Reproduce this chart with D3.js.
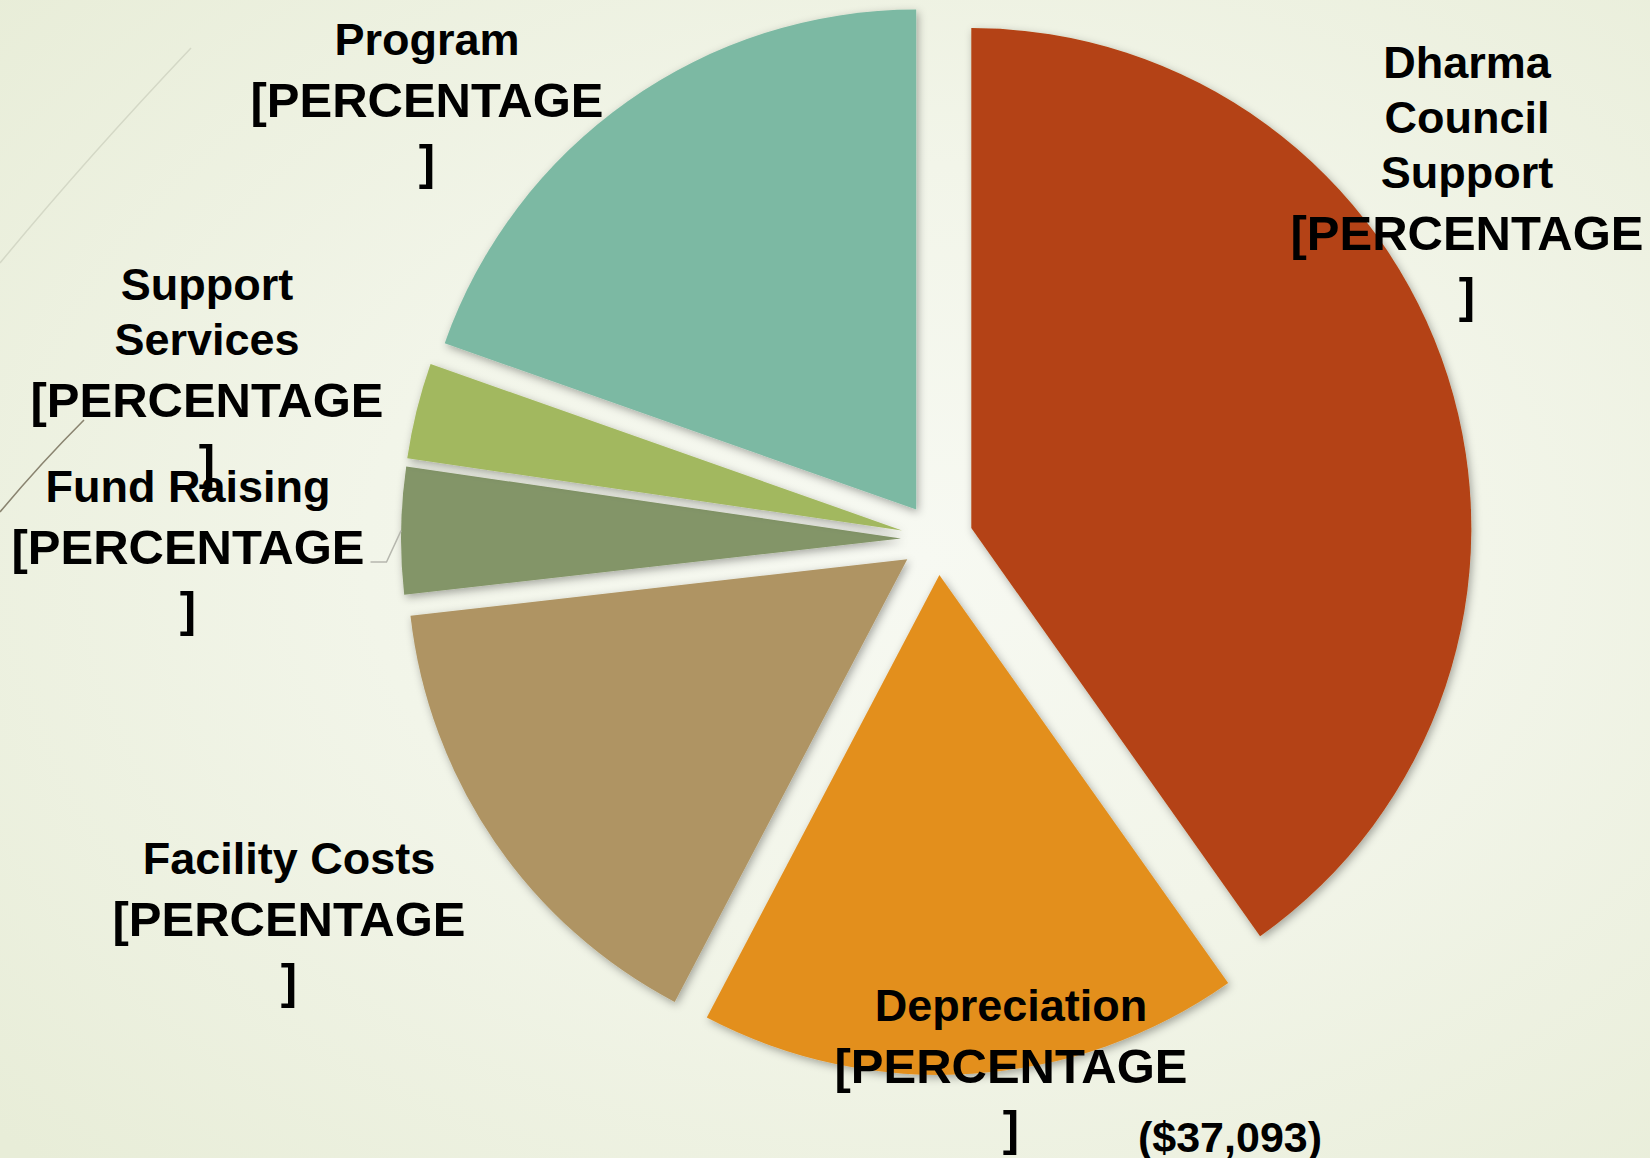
<!DOCTYPE html>
<html>
<head>
<meta charset="utf-8">
<script src="https://cdn.jsdelivr.net/npm/d3@7"></script>
<style>
  html, body { margin: 0; padding: 0; overflow: hidden; }
  body { width: 1650px; height: 1158px; }
  text { font-family: "Liberation Sans", Arial, sans-serif; font-weight: bold; fill: #000; }
</style>
</head>
<body>
<div id="chart"></div>
<script>
// Expense share per category (percent of total), read clockwise from 12 o'clock
var categories = ["Dharma Council Support", "Depreciation", "Facility Costs", "Fund Raising", "Support Services", "Program"];
var values = [40.2, 17.5, 15.5, 4.1, 3.1, 19.6];
var colors = ["#b44312", "#e38f1f", "#af9463", "#839567", "#a2b85e", "#7cb9a3"];
// how each category name wraps in its label
var nameLines = [["Dharma", "Council", "Support"], ["Depreciation"], ["Facility Costs"], ["Fund Raising"], ["Support", "Services"], ["Program"]];
var valueLabel = ["[PERCENTAGE", "]"];
var depreciationNote = "($37,093)";

var width = 1650, height = 1158;

// layout: pie centre, radius, explosion distance
var cx = 937, cy = 539, radius = 500, explode = 36;

// label anchors (centre x, first baseline y), same order as categories
var labelPos = [[1467, 78], [1011, 1021], [289, 874], [188, 502], [207, 300], [427, 55]];
var nameStep = 55, pctStep = 62;

var svg = d3.select("#chart").append("svg")
    .attr("width", width)
    .attr("height", height);

var defs = svg.append("defs");

var bg = defs.append("radialGradient")
    .attr("id", "bg")
    .attr("cx", "56%").attr("cy", "48%").attr("r", "75%");
bg.append("stop").attr("offset", "0%").attr("stop-color", "#f7f9f2");
bg.append("stop").attr("offset", "45%").attr("stop-color", "#f2f5e9");
bg.append("stop").attr("offset", "100%").attr("stop-color", "#e8edd8");

var shadow = defs.append("filter")
    .attr("id", "shadow")
    .attr("x", "-20%").attr("y", "-20%").attr("width", "140%").attr("height", "140%");
shadow.append("feDropShadow")
    .attr("dx", 2).attr("dy", 3)
    .attr("stdDeviation", 4)
    .attr("flood-color", "#000")
    .attr("flood-opacity", 0.33);

svg.append("rect")
    .attr("width", width)
    .attr("height", height)
    .attr("fill", "url(#bg)");

// slide decoration lines at the left edge
svg.append("path")
    .attr("d", "M191,48 Q85,160 0,263")
    .attr("fill", "none")
    .attr("stroke", "#d4d8c6")
    .attr("stroke-width", 1.5);
svg.append("path")
    .attr("d", "M84,420 Q40,464 0,512")
    .attr("fill", "none")
    .attr("stroke", "#8a8470")
    .attr("stroke-width", 1.6);

var pie = d3.pie().sort(null).value(function(d) { return d; });
var arcs = pie(values);

var arc = d3.arc().innerRadius(0).outerRadius(radius);

function offset(d) {
    var mid = (d.startAngle + d.endAngle) / 2;
    return [Math.sin(mid) * explode, -Math.cos(mid) * explode];
}

var g = svg.append("g")
    .attr("transform", "translate(" + cx + "," + cy + ")");

g.selectAll("path.slice")
    .data(arcs)
    .enter().append("path")
    .attr("class", "slice")
    .attr("d", arc)
    .attr("fill", function(d, i) { return colors[i]; })
    .attr("filter", "url(#shadow)")
    .attr("transform", function(d) {
        var o = offset(d);
        return "translate(" + o[0] + "," + o[1] + ")";
    });

// labels
var labels = svg.append("g").attr("class", "labels");

arcs.forEach(function(d, i) {
    var p = labelPos[i];
    var t = labels.append("text")
        .attr("text-anchor", "middle");
    var y = p[1];
    nameLines[i].forEach(function(line, k) {
        t.append("tspan")
            .attr("x", p[0])
            .attr("y", y)
            .attr("font-size", 45)
            .text(line);
        y += nameStep;
    });
    y += pctStep - nameStep;
    valueLabel.forEach(function(line, k) {
        var ts = t.append("tspan")
            .attr("x", p[0])
            .attr("y", y)
            .attr("font-size", 49)
            .text(line);
        if (k === 0) d.pctSpan = ts;
        y += pctStep;
    });
});

// leader line for the Fund Raising label
var fr = arcs[3];
var frOff = offset(fr);
var frMid = (fr.startAngle + fr.endAngle) / 2;
var tip = [cx + frOff[0] + Math.sin(frMid) * radius, cy + frOff[1] - Math.cos(frMid) * radius];
var box = fr.pctSpan.node().getBBox();
var startX = box.x + box.width + 6, startY = labelPos[3][1] + pctStep - 2;
svg.insert("path", ".labels")
    .attr("d", "M" + startX + "," + startY + "L" + (startX + 16) + "," + startY + "L" + tip[0] + "," + tip[1])
    .attr("fill", "none")
    .attr("stroke", "#b6b7ae")
    .attr("stroke-width", 1.5);

svg.append("text")
    .attr("x", 1230)
    .attr("y", 1152)
    .attr("text-anchor", "middle")
    .attr("font-size", 43)
    .text(depreciationNote);
</script>
</body>
</html>
